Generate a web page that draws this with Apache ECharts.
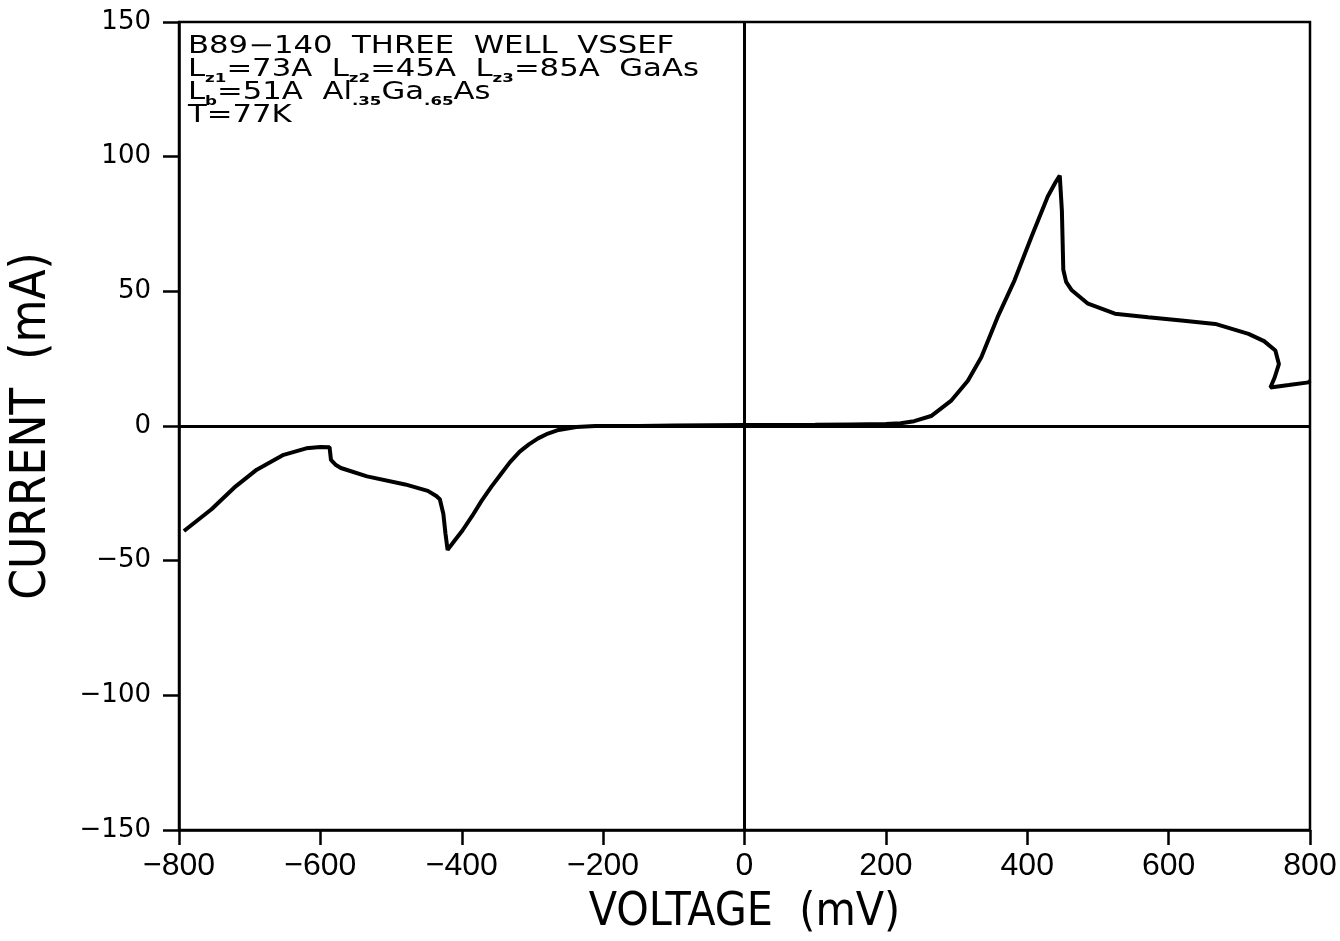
<!DOCTYPE html>
<html>
<head>
<meta charset="utf-8">
<script src="https://cdn.jsdelivr.net/npm/echarts@6/dist/echarts.min.js"></script>
<style>
  html, body { margin: 0; padding: 0; background: #fff; }
  #chart { width: 1340px; height: 941px; }
</style>
</head>
<body>
<div id="chart"></div>
<script>
// ---- Data ----
const voltage = [
  -793, -754, -722, -690, -652, -620, -600, -587, -585, -578, -571, -534, -480, -448, -436, -431,
  -426, -423, -420, -410, -399, -385, -372, -358, -345, -332, -318, -305, -292, -278, -265, -238,
  -211, -150, -100, -50, 0, 100, 150, 200, 221, 240, 264, 292, 316, 335, 358, 382, 406, 429, 440,
  446, 449, 451, 455, 463, 486, 524, 571, 618, 666, 713, 735, 751, 756, 750, 744, 770, 798, 800
];
const current = [
  -39, -30.9, -22.9, -16.2, -10.7, -8.3, -7.8, -7.9, -12.6, -14.5, -15.6, -18.7, -21.7, -24.1, -26, -27.2,
  -32.7, -40, -46, -42.5, -38.8, -33.3, -27.8, -22.5, -18, -13.5, -9.5, -6.8, -4.6, -2.8, -1.6, -0.4,
  0, 0, 0.2, 0.3, 0.4, 0.5, 0.6, 0.7, 1.0, 1.8, 3.7, 9.3, 16.8, 25.5, 40.4, 54.1, 70.3, 85.2, 90.5,
  93, 80, 58, 53.5, 50.4, 45.4, 41.7, 40.4, 39.2, 37.9, 34.2, 31.5, 28, 23, 18, 14.3, 15.2, 16.2, 16.8
];
const xTicks = [-800, -600, -400, -200, 0, 200, 400, 600, 800];
const yTicks = [-150, -100, -50, 0, 50, 100, 150];
const noteLines = [
  '{n|B89\u2212140  THREE  WELL  VSSEF}',
  '{n|L}{s|z1}{n|=73A  L}{s|z2}{n|=45A  L}{s|z3}{n|=85A  GaAs}',
  '{n|L}{s|b}{n|=51A  Al}{s|.35}{n|Ga}{s|.65}{n|As}',
  '{n|T=77K}'
];
const xName = 'VOLTAGE  (mV)';
const yName = 'CURRENT  (mA)';

// ---- Build ----
const pts = voltage.map((v, i) => [v, current[i]]);
const fmt = v => (v < 0 ? '\u2212' + Math.abs(v) : String(v));
const narrow = "'DejaVu Sans Condensed', 'Liberation Sans Narrow', sans-serif";

const chart = echarts.init(document.getElementById('chart'), null, { renderer: 'canvas' });

const notes = noteLines.map((t, i) => ({
  type: 'text',
  x: 188,
  y: 39 + i * 23,
  scaleX: 1.28,
  silent: true,
  z: 10,
  style: {
    text: t,
    align: 'left',
    verticalAlign: 'top',
    fill: '#000',
    rich: {
      n: { fontFamily: 'DejaVu Sans', fontSize: 24, fontWeight: 'normal', fill: '#000', lineHeight: 23, padding: [0, 0, 3, 0], verticalAlign: 'bottom' },
      s: { fontFamily: 'DejaVu Sans', fontSize: 13, fontWeight: 'bold', fill: '#000', lineHeight: 13, verticalAlign: 'bottom' }
    }
  }
}));

chart.setOption({
  animation: false,
  backgroundColor: '#fff',
  graphic: notes,
  grid: {
    left: 172, right: 30, top: 22, bottom: 98,
    show: true, borderColor: '#000', borderWidth: 2.5, backgroundColor: 'transparent'
  },
  xAxis: {
    type: 'value',
    min: xTicks[0], max: xTicks[xTicks.length - 1], interval: 200,
    name: xName, nameLocation: 'middle', nameGap: 60,
    nameTextStyle: { fontFamily: narrow, fontSize: 46, color: '#000' },
    axisLine: { onZero: false, lineStyle: { color: '#000', width: 2.5 } },
    axisTick: { show: true, inside: false, length: 15, lineStyle: { color: '#000', width: 2.5 } },
    axisLabel: { formatter: fmt, fontFamily: 'Liberation Sans', fontSize: 32, color: '#000', margin: 20 },
    splitLine: { show: false }
  },
  yAxis: {
    type: 'value',
    min: yTicks[0], max: yTicks[yTicks.length - 1], interval: 50,
    name: yName, nameLocation: 'middle', nameGap: 122, nameRotate: 90,
    nameTextStyle: { fontFamily: narrow, fontSize: 49, color: '#000' },
    axisLine: { onZero: false, lineStyle: { color: '#000', width: 2.5 } },
    axisTick: { show: true, inside: false, length: 16, lineStyle: { color: '#000', width: 2.5 } },
    axisLabel: { formatter: fmt, fontFamily: 'DejaVu Sans', fontSize: 26, color: '#000', margin: 28 },
    splitLine: { show: false }
  },
  series: [{
    type: 'line',
    data: pts,
    showSymbol: false,
    smooth: false,
    lineStyle: { color: '#000', width: 4 },
    markLine: {
      silent: true,
      symbol: 'none',
      label: { show: false },
      lineStyle: { color: '#000', width: 3, type: 'solid' },
      data: [{ xAxis: 0 }, { yAxis: 0 }]
    }
  }]
});
</script>
</body>
</html>
